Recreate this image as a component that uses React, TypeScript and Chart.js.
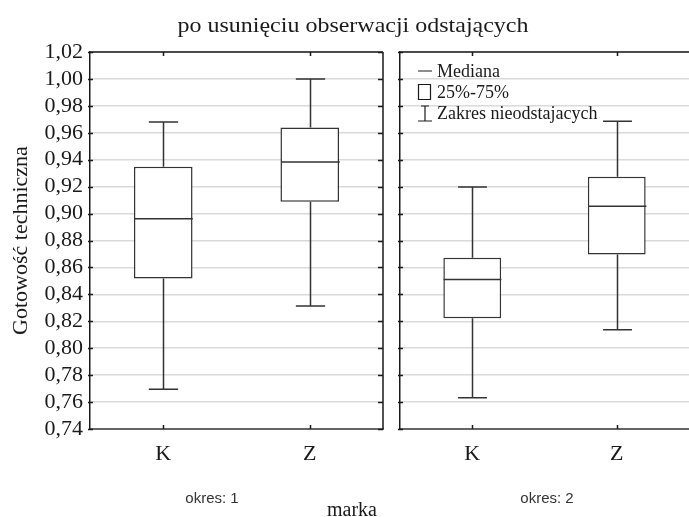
import React, { useEffect, useRef } from 'react';
import { Chart, registerables } from 'chart.js';

Chart.register(...registerables);

// ---------- data ----------
const categories = ['K', 'Z'];
const periodLabels = ['okres: 1', 'okres: 2'];

// period 1
const p1Min = [0.7695, 0.8313];
const p1Q1 = [0.8517, 0.9088];
const p1Median = [0.8961, 0.9383];
const p1Q3 = [0.9348, 0.9639];
const p1Max = [0.968, 1.0];

// period 2
const p2Min = [0.7633, 0.8137];
const p2Q1 = [0.8222, 0.8696];
const p2Median = [0.851, 0.9055];
const p2Q3 = [0.8671, 0.9274];
const p2Max = [0.9197, 0.9686];

const yMinValue = 0.74;
const yMaxValue = 1.02;
const yStepValue = 0.02;

const legendLabels = ['Mediana', '25%-75%', 'Zakres nieodstajacych'];
const titleText = 'po usunięciu obserwacji odstających';
const yTitleText = 'Gotowość techniczna';
const xTitleText = 'marka';

// ---------- styles ----------
const SERIF = '"Liberation Serif", "Times New Roman", serif';
const SANS = '"Liberation Sans", Arial, sans-serif';
const INK = '#1a1a1a';
const BOX = '#333333';
const GRID = '#dadada';

type Stats = { min: number[]; median: number[]; max: number[] };

const boxWhiskerPlugin = {
  id: 'boxWhisker',
  afterDatasetsDraw(chart: any) {
    const stats: Stats = chart.options.plugins.boxWhisker;
    if (!stats) return;
    const meta = chart.getDatasetMeta(0);
    const ys = chart.scales.y;
    const ctx = chart.ctx;
    ctx.save();
    ctx.strokeStyle = BOX;
    ctx.lineWidth = 1.5;
    meta.data.forEach((el: any, i: number) => {
      const x = Math.round(el.x) + 0.5;
      const half = el.width / 2;
      const cap = el.width / 4;
      const [q1, q3] = chart.data.datasets[0].data[i];
      const yQ1 = ys.getPixelForValue(q1);
      const yQ3 = ys.getPixelForValue(q3);
      const yMed = ys.getPixelForValue(stats.median[i]);
      const yLo = ys.getPixelForValue(stats.min[i]);
      const yHi = ys.getPixelForValue(stats.max[i]);
      ctx.beginPath();
      ctx.moveTo(x, yQ3);
      ctx.lineTo(x, yHi);
      ctx.moveTo(x - cap, yHi);
      ctx.lineTo(x + cap, yHi);
      ctx.moveTo(x, yQ1);
      ctx.lineTo(x, yLo);
      ctx.moveTo(x - cap, yLo);
      ctx.lineTo(x + cap, yLo);
      ctx.moveTo(x - half, yMed);
      ctx.lineTo(x + half, yMed);
      ctx.stroke();
    });
    ctx.restore();
  },
};

const framePlugin = {
  id: 'frame',
  afterDraw(chart: any) {
    const opts = chart.options.plugins.frame || {};
    const { left, right, top, bottom } = chart.chartArea;
    const ctx = chart.ctx;
    const xs = chart.scales.x;
    const ys = chart.scales.y;
    ctx.save();
    ctx.strokeStyle = INK;
    ctx.lineWidth = 1.5;
    ctx.beginPath();
    ctx.moveTo(left, top);
    ctx.lineTo(right + (opts.drawRight ? 0 : 2), top);
    if (opts.drawRight) {
      ctx.moveTo(right, top);
      ctx.lineTo(right, bottom);
    }
    categories.forEach((_, i) => {
      const x = Math.round(xs.getPixelForValue(i)) + 0.5;
      ctx.moveTo(x, top);
      ctx.lineTo(x, top + 4);
      ctx.moveTo(x, bottom);
      ctx.lineTo(x, bottom - 4);
    });
    ys.ticks.forEach((t: any) => {
      const y = Math.round(ys.getPixelForValue(t.value)) + 0.5;
      ctx.moveTo(left - 2, y);
      ctx.lineTo(left + 3, y);
      if (opts.drawRight) {
        ctx.moveTo(right - 5, y);
        ctx.lineTo(right, y);
      }
    });
    ctx.stroke();
    ctx.restore();
  },
};

const legendPlugin = {
  id: 'boxLegend',
  afterDraw(chart: any) {
    if (!chart.options.plugins.boxLegend) return;
    const ctx = chart.ctx;
    const x0 = chart.chartArea.left + 18;
    const rows = [71, 92, 113];
    ctx.save();
    ctx.strokeStyle = INK;
    ctx.lineWidth = 1.2;
    ctx.fillStyle = INK;
    ctx.font = `18px ${SERIF}`;
    ctx.textBaseline = 'middle';
    ctx.textAlign = 'left';
    ctx.beginPath();
    ctx.moveTo(x0, rows[0]);
    ctx.lineTo(x0 + 14, rows[0]);
    ctx.rect(x0 + 0.5, rows[1] - 7.5, 12, 15);
    const wx = x0 + 7;
    ctx.moveTo(wx, rows[2] - 7);
    ctx.lineTo(wx, rows[2] + 8);
    ctx.moveTo(wx - 4, rows[2] - 7);
    ctx.lineTo(wx + 4, rows[2] - 7);
    ctx.moveTo(wx - 7, rows[2] + 8);
    ctx.lineTo(wx + 7, rows[2] + 8);
    ctx.stroke();
    legendLabels.forEach((label, i) => {
      ctx.fillText(label, x0 + 19, rows[i] + 1);
    });
    ctx.restore();
  },
};

function makeConfig(
  q1: number[],
  q3: number[],
  stats: Stats,
  first: boolean
): any {
  return {
    type: 'bar',
    data: {
      labels: categories,
      datasets: [
        {
          data: categories.map((_, i) => [q1[i], q3[i]]),
          backgroundColor: '#ffffff',
          borderColor: BOX,
          borderWidth: 1.5,
          borderSkipped: false,
          barPercentage: 0.4,
          categoryPercentage: 1,
        },
      ],
    },
    options: {
      responsive: false,
      animation: false,
      devicePixelRatio: 1,
      layout: {
        padding: { top: 52, right: first ? 12 : 13, bottom: 0, left: 0 },
      },
      scales: {
        x: {
          type: 'category',
          offset: true,
          grid: { display: false, drawTicks: false },
          border: { display: true, color: '#666666', width: 2 },
          ticks: {
            font: { family: SERIF, size: 22 },
            color: INK,
            padding: 12,
            maxRotation: 0,
          },
          afterFit: (s: any) => {
            s.height = 88;
          },
        },
        y: {
          type: 'linear',
          min: yMinValue,
          max: yMaxValue,
          grid: { color: GRID, lineWidth: 1.5, drawTicks: false },
          border: { display: true, color: INK, width: 1.5 },
          ticks: {
            display: first,
            autoSkip: false,
            stepSize: yStepValue,
            font: { family: SERIF, size: 22 },
            color: INK,
            padding: 7,
            callback: (v: number) => v.toFixed(2).replace('.', ','),
          },
          title: {
            display: first,
            text: yTitleText,
            font: { family: SERIF, size: 22 },
            color: INK,
            padding: { top: 8, bottom: 0 },
          },
          afterFit: (s: any) => {
            s.width = first ? 90 : 8;
          },
        },
      },
      plugins: {
        legend: { display: false },
        tooltip: { enabled: false },
        title: { display: false },
        boxWhisker: stats,
        frame: { drawRight: first },
        boxLegend: !first,
      },
    },
    plugins: [boxWhiskerPlugin, framePlugin, legendPlugin],
  };
}

export default function App() {
  const c1 = useRef<HTMLCanvasElement>(null);
  const c2 = useRef<HTMLCanvasElement>(null);

  useEffect(() => {
    const ch1 = new Chart(
      c1.current as HTMLCanvasElement,
      makeConfig(p1Q1, p1Q3, { min: p1Min, median: p1Median, max: p1Max }, true)
    );
    const ch2 = new Chart(
      c2.current as HTMLCanvasElement,
      makeConfig(p2Q1, p2Q3, { min: p2Min, median: p2Median, max: p2Max }, false)
    );
    return () => {
      ch1.destroy();
      ch2.destroy();
    };
  }, []);

  const textStyle = (
    left: number,
    top: number,
    size: number,
    family: string,
    color = INK,
    stretch = 1
  ): React.CSSProperties => ({
    position: 'absolute',
    left,
    top,
    transform: `translate(-50%, -50%) scaleX(${stretch})`,
    whiteSpace: 'nowrap',
    fontFamily: family,
    fontSize: size,
    color,
    lineHeight: 1,
  });

  return (
    <div
      style={{
        position: 'fixed',
        left: 0,
        top: 0,
        width: 689,
        height: 517,
        overflow: 'hidden',
        background: '#ffffff',
      }}
    >
      <canvas
        ref={c1}
        width={395}
        height={517}
        style={{ position: 'absolute', left: 0, top: 0 }}
      />
      <canvas
        ref={c2}
        width={310}
        height={517}
        style={{ position: 'absolute', left: 392, top: 0 }}
      />
      <div style={textStyle(353, 25, 22, SERIF, INK, 1.09)}>{titleText}</div>
      <div style={textStyle(212, 497, 15, SANS, '#333')}>{periodLabels[0]}</div>
      <div style={textStyle(547, 497, 15, SANS, '#333')}>{periodLabels[1]}</div>
      <div style={textStyle(352, 509, 20, SERIF)}>{xTitleText}</div>
    </div>
  );
}
